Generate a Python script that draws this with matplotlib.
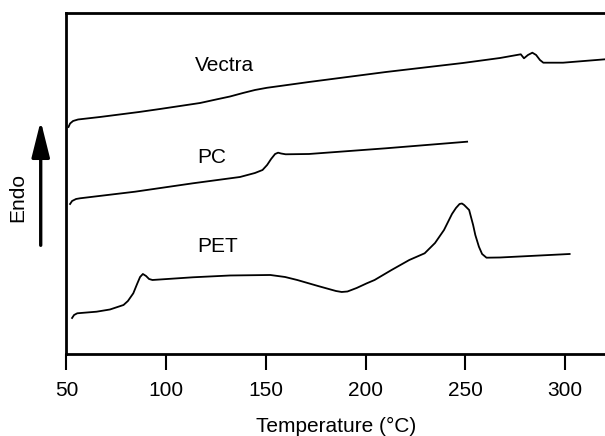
import matplotlib
matplotlib.use('Agg')
import matplotlib.pyplot as plt

plt.rcParams['font.family'] = ['Liberation Sans', 'DejaVu Sans']

# DSC traces, temperature in degC, heat flow in arbitrary units (endo up)
vectra_t = [51.0, 51.8, 53.3, 55.8, 66.8, 86.4, 96.9, 117.0, 125.0, 132.0, 138.5, 144.5,
            150.5, 157.1, 171.6, 210.2, 248.8, 267.4, 277.8, 279.4, 281.4, 283.6, 285.5,
            287.4, 289.1, 299.0, 320.1]
vectra_q = [22.7, 23.05, 23.3, 23.45, 23.7, 24.2, 24.5, 25.1, 25.45, 25.75, 26.1, 26.4,
            26.62, 26.8, 27.2, 28.2, 29.1, 29.6, 29.97, 29.57, 29.9, 30.13, 29.9,
            29.4, 29.13, 29.13, 29.47]

pc_t = [51.8, 52.8, 54.8, 56.8, 84.4, 113.4, 137.0, 144.5, 148.3, 150.6, 152.6, 154.6,
        156.1, 157.6, 159.9, 171.6, 210.2, 250.9]
pc_q = [15.0, 15.3, 15.5, 15.57, 16.23, 17.07, 17.7, 18.1, 18.4, 18.9, 19.5, 20.0,
        20.13, 20.05, 19.97, 20.0, 20.57, 21.23]

pet_t = [52.8, 53.8, 55.4, 65.1, 71.8, 78.6, 80.8, 83.5, 85.4, 86.9, 88.3, 89.9, 91.4,
         93.1, 113.4, 132.0, 152.2, 159.6, 165.7, 176.1, 185.1, 188.0, 190.9, 195.5,
         200.6, 204.5, 213.0, 221.9, 229.6, 234.8, 239.3, 243.3, 245.3, 247.1, 248.3,
         249.4, 251.9, 253.9, 255.0, 256.8, 258.4, 260.6, 267.4, 302.3]
pet_q = [3.6, 3.9, 4.07, 4.23, 4.45, 4.9, 5.3, 6.07, 7.0, 7.7, 8.0, 7.8, 7.5,
         7.4, 7.67, 7.85, 7.9, 7.7, 7.4, 6.8, 6.3, 6.2, 6.25, 6.6,
         7.07, 7.4, 8.4, 9.4, 10.07, 11.1, 12.4, 14.0, 14.6, 15.0, 15.05,
         14.9, 14.4, 12.9, 11.9, 10.73, 10.0, 9.63, 9.65, 10.0]

labels = ['Vectra', 'PC', 'PET']
label_pos = [(114.5, 28.8), (115.5, 19.6), (115.8, 10.7)]

fig = plt.figure(figsize=(6.05, 4.36), dpi=100)
ax = fig.add_axes([0.1099, 0.1881, 0.890, 0.7821])

for t, q in [(vectra_t, vectra_q), (pc_t, pc_q), (pet_t, pet_q)]:
    ax.plot(t, q, color='black', lw=1.3, solid_joinstyle='round')

for name, (x, y) in zip(labels, label_pos):
    ax.text(x, y, name, fontsize=15, ha='left', va='center')

ax.set_xlim(50, 320)
ax.set_ylim(0, 34.1)
ax.set_xticks([50, 100, 150, 200, 250, 300])
ax.set_yticks([])
ax.spines['right'].set_visible(False)
for s in ['left', 'bottom', 'top']:
    ax.spines[s].set_linewidth(2)
ax.tick_params(axis='x', direction='out', length=11.5, width=1.5, labelsize=15, pad=8)
ax.set_xlabel('Temperature (°C)', fontsize=15, labelpad=12)

# Endo arrow on the left
ax.annotate('', xy=(0.0673, 0.729), xytext=(0.0673, 0.431),
            xycoords='figure fraction', textcoords='figure fraction',
            arrowprops=dict(arrowstyle='-|>,head_length=2.2,head_width=0.55',
                            mutation_scale=10, lw=2.4, color='black'))
fig.text(0.0286, 0.546, 'Endo', rotation=90, fontsize=15, ha='center', va='center')

fig.savefig('out.png', dpi=100)
